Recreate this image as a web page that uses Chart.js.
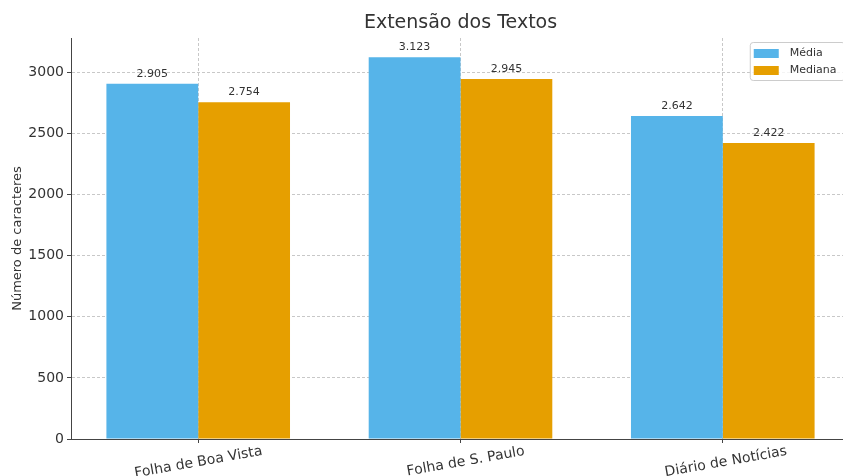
<!DOCTYPE html>
<html>
<head>
<meta charset="utf-8">
<script src="https://cdn.jsdelivr.net/npm/chart.js@4.4.0/dist/chart.umd.min.js"></script>
<style>
  html, body { margin: 0; padding: 0; background: #fff; overflow: hidden; }
  #wrap { width: 860px; height: 476px; }
</style>
</head>
<body>
<div id="wrap"><canvas id="chart" width="860" height="476"></canvas></div>
<script>
// data
const categories = ['Folha de Boa Vista', 'Folha de S. Paulo', 'Diário de Notícias'];
const media = [2905, 3123, 2642];
const mediana = [2754, 2945, 2422];
const yTicks = [0, 500, 1000, 1500, 2000, 2500, 3000];

const BLUE = '#56B4E9';
const ORANGE = '#E69F00';
const TEXT = '#333333';
const AXIS = '#444444';
const GRID = 'rgba(176,176,176,0.7)';

Chart.defaults.font.family = "'DejaVu Sans', sans-serif";
Chart.defaults.color = TEXT;

// 2905 -> "2.905"
const fmt = (v) => String(v).replace(/\B(?=(\d{3})+(?!\d))/g, '.');

// value labels above each bar
const valueLabels = {
  id: 'valueLabels',
  afterDatasetsDraw(chart) {
    const ctx = chart.ctx;
    ctx.save();
    ctx.font = "11px 'DejaVu Sans'";
    ctx.fillStyle = TEXT;
    ctx.textAlign = 'center';
    ctx.textBaseline = 'alphabetic';
    chart.data.datasets.forEach((ds, di) => {
      chart.getDatasetMeta(di).data.forEach((bar, i) => {
        ctx.fillText(fmt(ds.data[i].y), bar.x, bar.y - 7);
      });
    });
    ctx.restore();
  }
};

// matplotlib-like legend box in the upper right of the plot
const legendBox = {
  id: 'legendBox',
  afterDraw(chart) {
    const ctx = chart.ctx;
    const area = chart.chartArea;
    ctx.save();
    ctx.font = "11px 'DejaVu Sans'";
    const textW = Math.max(...chart.data.datasets.map(d => ctx.measureText(d.label).width));
    const w = 4 + 25 + 11 + textW + 8;
    const h = 38;
    const x = area.right - 5.5 - w;
    const y = 42;
    ctx.fillStyle = 'rgba(255,255,255,0.8)';
    ctx.strokeStyle = '#cccccc';
    ctx.lineWidth = 1;
    ctx.beginPath();
    ctx.roundRect(x + 0.5, y + 0.5, w, h, 3);
    ctx.fill();
    ctx.stroke();
    chart.data.datasets.forEach((ds, i) => {
      const cy = y + 11 + i * 17;
      ctx.fillStyle = ds.backgroundColor;
      ctx.fillRect(x + 4, cy - 4, 25, 9);
      ctx.fillStyle = TEXT;
      ctx.textBaseline = 'middle';
      ctx.fillText(ds.label, x + 40, cy);
    });
    ctx.restore();
  }
};

const toPoints = (arr) => arr.map((v, i) => ({ x: i, y: v }));

new Chart(document.getElementById('chart'), {
  type: 'bar',
  data: {
    datasets: [
      { label: 'Média', data: toPoints(media), backgroundColor: BLUE,
        categoryPercentage: 0.7, barPercentage: 1.0, borderWidth: 0 },
      { label: 'Mediana', data: toPoints(mediana), backgroundColor: ORANGE,
        categoryPercentage: 0.7, barPercentage: 1.0, borderWidth: 0 }
    ]
  },
  options: {
    responsive: false,
    animation: false,
    devicePixelRatio: 1,
    layout: { padding: { left: 0, right: 10, top: 0, bottom: 0 } },
    plugins: {
      legend: { display: false },
      tooltip: { enabled: false },
      title: {
        display: true,
        fullSize: false,
        text: 'Extensão dos Textos',
        color: TEXT,
        font: { size: 19, weight: 'normal' },
        padding: { top: 12, bottom: 3.2 }
      }
    },
    scales: {
      x: {
        type: 'linear',
        min: -0.485,
        max: 2.485,
        offset: false,
        afterBuildTicks: (s) => { s.ticks = categories.map((c, i) => ({ value: i })); },
        afterFit: (s) => { s.height = 37; },
        ticks: {
          autoSkip: false,
          minRotation: 10,
          maxRotation: 10,
          labelOffset: 64,
          padding: 0,
          color: TEXT,
          font: { size: 14 },
          callback: (v) => categories[v] ?? ''
        },
        grid: { offset: false, color: GRID, tickColor: AXIS, tickLength: 4, tickBorderDash: [] },
        border: { color: AXIS, dash: [3, 2] }
      },
      y: {
        min: 0,
        max: 3280,
        afterBuildTicks: (s) => { s.ticks = yTicks.map(v => ({ value: v })); },
        afterFit: (s) => { s.width = 71; },
        ticks: { padding: 3, color: TEXT, font: { size: 14 }, callback: (v) => String(v) },
        grid: { color: GRID, tickColor: AXIS, tickLength: 4, tickBorderDash: [] },
        border: { color: AXIS, dash: [3, 2] },
        title: {
          display: true,
          text: 'Número de caracteres',
          color: TEXT,
          font: { size: 13 },
          padding: { top: 10, bottom: 0 }
        }
      }
    }
  },
  plugins: [valueLabels, legendBox]
});
</script>
</body>
</html>
